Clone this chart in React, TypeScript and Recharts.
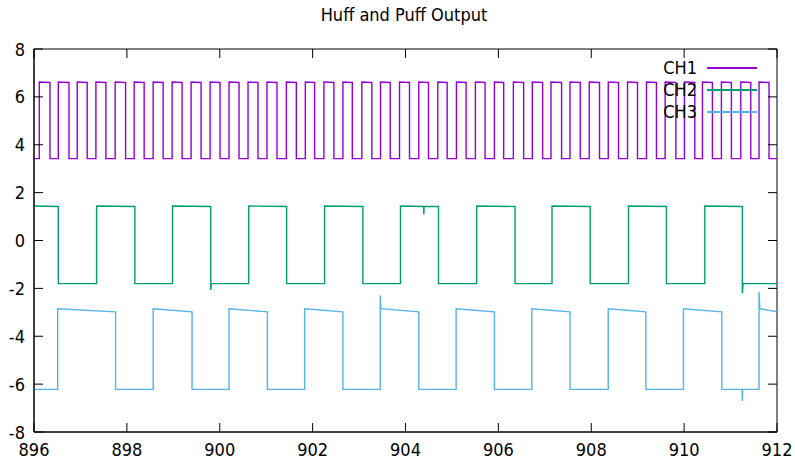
import React from 'react'
import { LineChart, Line, XAxis, YAxis, ReferenceArea } from 'recharts'

// CH1 fast square wave: edge times
const ch1Rises = [
  896.114, 896.523, 896.931, 897.333, 897.748, 898.157, 898.566, 898.974, 899.383, 899.792,
  900.2, 900.609, 901.017, 901.434, 901.843, 902.243, 902.652, 903.06, 903.462, 903.871,
  904.286, 904.695, 905.097, 905.505, 905.914, 906.323, 906.731, 907.133, 907.542, 907.957,
  908.366, 908.781, 909.189, 909.591, 910.006, 910.394, 910.803, 911.22, 911.613,
]
const ch1Falls = [
  896.344, 896.753, 897.146, 897.548, 897.972, 898.372, 898.781, 899.189, 899.598, 900.006,
  900.415, 900.823, 901.232, 901.649, 902.043, 902.458, 902.854, 903.275, 903.671, 904.086,
  904.495, 904.897, 905.305, 905.714, 906.114, 906.544, 906.953, 907.361, 907.763, 908.178,
  908.587, 908.996, 909.404, 909.822, 910.23, 910.609, 911.018, 911.435, 911.828,
]

// CH2 and CH3: alternating edges (CH2 starts high, CH3 starts low)
const ch2Edges = [
  896.523, 897.348, 898.172, 898.983, 899.806, 900.624, 901.441, 902.258, 903.082, 903.892,
  904.71, 905.533, 906.359, 907.155, 907.978, 908.802, 909.619, 910.445, 911.254,
]
const ch3Edges = [
  896.51, 897.757, 898.566, 899.404, 900.2, 901.026, 901.828, 902.652, 903.456, 904.286,
  905.09, 905.914, 906.72, 907.542, 908.366, 909.176, 909.985, 910.811, 911.613,
]

// levels: [low, high at start of pulse, high at end of pulse]
const ch1Levels = [3.42, 6.62, 6.6]
const ch2Levels = [-1.8, 1.44, 1.42]
const ch3Levels = [-6.22, -2.85, -2.98]

// glitches seen on the traces
const ch2Glitches = [
  [899.806, -2.07], [899.82, -1.8],
  [904.39, 1.42], [904.395, 1.1], [904.4, 1.42],
  [911.254, -2.2], [911.27, -1.8],
]
const ch3Glitches = [
  [903.456, -2.3], [903.47, -2.85],
  [911.25, -6.22], [911.255, -6.7], [911.26, -6.22],
  [911.613, -2.14], [911.63, -2.85],
]

const xTicks = [896, 898, 900, 902, 904, 906, 908, 910, 912]
const yTicks = [-8, -6, -4, -2, 0, 2, 4, 6, 8]

const PLOT_LEFT = 34
const PLOT_RIGHT = 777
const PLOT_TOP = 49
const PLOT_BOTTOM = 432
const TICK_LEN = 9
const FONT = '"DejaVu Sans Condensed", "DejaVu Sans", sans-serif'

function buildWave(edges: number[], levels: number[], startHigh: boolean, glitches: number[][] = []) {
  const [lo, hiStart, hiEnd] = levels
  const pts: { x: number; y: number }[] = []
  let high = startHigh
  pts.push({ x: 896, y: high ? hiStart : lo })
  edges.forEach((t) => {
    if (high) {
      pts.push({ x: t, y: hiEnd })
      pts.push({ x: t, y: lo })
    } else {
      pts.push({ x: t, y: lo })
      pts.push({ x: t, y: hiStart })
    }
    high = !high
  })
  pts.push({ x: 912, y: high ? hiEnd : lo })
  glitches.forEach(([x, y]) => pts.push({ x, y }))
  return pts
    .map((p, i) => ({ ...p, i }))
    .sort((a, b) => a.x - b.x || a.i - b.i)
    .map(({ x, y }) => ({ x, y }))
}

const ch1Edges = ch1Rises.flatMap((r, i) => [r, ch1Falls[i]])
const ch1Data = buildWave(ch1Edges, ch1Levels, false)
const ch2Data = buildWave(ch2Edges, ch2Levels, true, ch2Glitches)
const ch3Data = buildWave(ch3Edges, ch3Levels, false, ch3Glitches)

const textStyle = { fontStretch: 'condensed' } as React.CSSProperties

const XTick = (props: any) => {
  const { x, payload } = props
  return (
    <g>
      <line x1={x} x2={x} y1={PLOT_BOTTOM} y2={PLOT_BOTTOM - TICK_LEN} stroke="#000" />
      <line x1={x} x2={x} y1={PLOT_TOP} y2={PLOT_TOP + TICK_LEN} stroke="#000" />
      <text x={x} y={PLOT_BOTTOM + 24} textAnchor="middle" fontSize={18} fontFamily={FONT} style={textStyle} fill="#000">
        {payload.value}
      </text>
    </g>
  )
}

const YTick = (props: any) => {
  const { y, payload } = props
  return (
    <g>
      <line x1={PLOT_LEFT} x2={PLOT_LEFT + TICK_LEN} y1={y} y2={y} stroke="#000" />
      <line x1={PLOT_RIGHT} x2={PLOT_RIGHT - TICK_LEN} y1={y} y2={y} stroke="#000" />
      <text x={PLOT_LEFT - 9} y={y + 6.5} textAnchor="end" fontSize={18} fontFamily={FONT} style={textStyle} fill="#000">
        {payload.value}
      </text>
    </g>
  )
}

const legendItems = [
  { name: 'CH1', color: '#9400d3' },
  { name: 'CH2', color: '#009e73' },
  { name: 'CH3', color: '#56b4e9' },
]

export default function App() {
  return (
    <div style={{ position: 'absolute', left: 0, top: 0, width: 795, height: 466, background: '#fff' }}>
      <div
        style={{
          position: 'absolute', left: 0, top: 4, width: 808, textAlign: 'center',
          fontFamily: FONT, fontStretch: 'condensed', fontSize: 18, lineHeight: '22px', color: '#000',
        }}
      >
        Huff and Puff Output
      </div>
      <LineChart
        width={795}
        height={466}
        margin={{ top: PLOT_TOP, right: 795 - PLOT_RIGHT, left: 0, bottom: 0 }}
      >
        <XAxis
          dataKey="x"
          type="number"
          domain={[896, 912]}
          ticks={xTicks}
          height={466 - PLOT_BOTTOM}
          tickLine={false}
          axisLine={{ stroke: '#000' }}
          tick={<XTick />}
          allowDataOverflow
        />
        <YAxis
          type="number"
          domain={[-8, 8]}
          ticks={yTicks}
          width={PLOT_LEFT}
          tickLine={false}
          axisLine={{ stroke: '#000' }}
          tick={<YTick />}
          allowDataOverflow
        />
        <ReferenceArea x1={896} x2={912} y1={-8} y2={8} fill="none" stroke="#000" strokeWidth={1} />
        <Line data={ch1Data} dataKey="y" type="linear" stroke="#9400d3" strokeWidth={1.4} dot={false} isAnimationActive={false} />
        <Line data={ch2Data} dataKey="y" type="linear" stroke="#009e73" strokeWidth={1.4} dot={false} isAnimationActive={false} />
        <Line data={ch3Data} dataKey="y" type="linear" stroke="#56b4e9" strokeWidth={1.4} dot={false} isAnimationActive={false} />
      </LineChart>
      {legendItems.map((item, i) => (
        <div key={item.name} style={{ position: 'absolute', left: 600, top: 59 + i * 22, width: 160, height: 18 }}>
          <span
            style={{
              position: 'absolute', right: 63, top: -1, fontFamily: FONT, fontStretch: 'condensed',
              fontSize: 18, color: '#000', lineHeight: '20px',
            }}
          >
            {item.name}
          </span>
          <div style={{ position: 'absolute', left: 107, top: 8, width: 50, height: 2, backgroundColor: item.color }} />
        </div>
      ))}
    </div>
  )
}
